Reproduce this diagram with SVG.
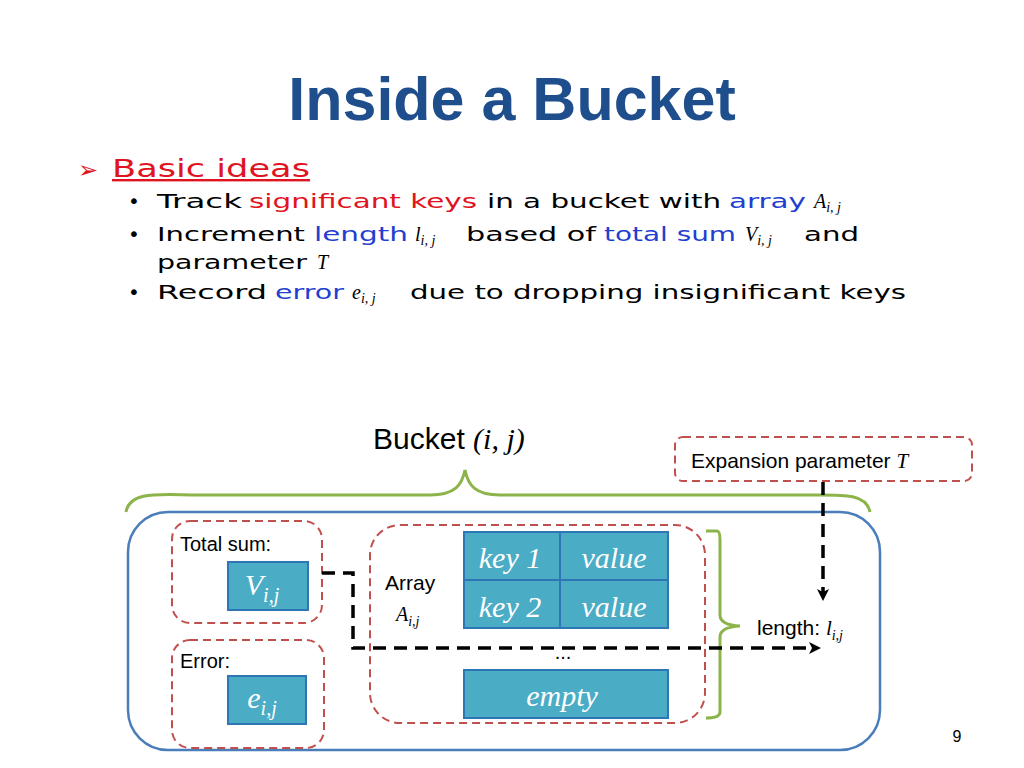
<svg xmlns="http://www.w3.org/2000/svg" width="1024" height="768" viewBox="0 0 1024 768">
<defs>
<style>
.t{font-family:"Liberation Sans",Arial,sans-serif}
.m{font-family:"Liberation Serif","DejaVu Serif",serif;font-style:italic}
.b{font-family:"DejaVu Sans",Verdana,sans-serif;font-size:20px;fill:#000}
.blue{fill:#1f3fd0}.red{fill:#e0141e}
.rd{fill:none;stroke:#c0504d;stroke-width:2;stroke-dasharray:8,5}
.cell{fill:#4bacc6;stroke:#2e75b6;stroke-width:2}
.ct{font-family:"Liberation Serif",serif;font-style:italic;font-size:30px;fill:#fff;text-anchor:middle}
.con{fill:none;stroke:#000;stroke-width:3.5;stroke-dasharray:13,8}
</style>
<marker id="ah2" markerWidth="12" markerHeight="12" refX="6" refY="6" orient="auto" markerUnits="userSpaceOnUse" viewBox="0 0 12 12"><path d="M0,0 L12,6 L0,12 L3,6 z" fill="#000"/></marker>
</defs>
<rect width="1024" height="768" fill="#fff"/>
<text x="512" y="120" text-anchor="middle" class="t" font-size="61" font-weight="bold" fill="#1f4e8c">Inside a Bucket</text>
<text x="78" y="178" class="t" font-size="24" fill="#e0141e">➢</text>
<text x="112" y="177" font-family="DejaVu Sans,sans-serif" font-size="24" fill="#e0141e" text-decoration="underline" textLength="198" lengthAdjust="spacingAndGlyphs">Basic ideas</text>
<g class="b">
<text x="128" y="208">•</text><text x="128" y="241">•</text><text x="128" y="299">•</text>
<text y="208"><tspan x="157" textLength="85" lengthAdjust="spacingAndGlyphs">Track</tspan><tspan x="249" class="red" textLength="228" lengthAdjust="spacingAndGlyphs">significant keys</tspan><tspan x="487" textLength="234" lengthAdjust="spacingAndGlyphs">in a bucket with</tspan><tspan x="729" class="blue" textLength="77" lengthAdjust="spacingAndGlyphs">array</tspan><tspan x="814" class="m">A<tspan font-size="14" dy="4">i, j</tspan></tspan></text>
<text y="241"><tspan x="157" textLength="148" lengthAdjust="spacingAndGlyphs">Increment</tspan><tspan x="314" class="blue" textLength="94" lengthAdjust="spacingAndGlyphs">length</tspan><tspan x="415" class="m">l<tspan font-size="14" dy="4">i, j</tspan></tspan><tspan x="466" y="241" textLength="130" lengthAdjust="spacingAndGlyphs">based of</tspan><tspan x="604" class="blue" textLength="132" lengthAdjust="spacingAndGlyphs">total sum</tspan><tspan x="745" class="m">V<tspan font-size="14" dy="4">i, j</tspan></tspan><tspan x="804" y="241" textLength="55" lengthAdjust="spacingAndGlyphs">and</tspan></text>
<text y="269"><tspan x="157" textLength="150" lengthAdjust="spacingAndGlyphs">parameter</tspan><tspan x="317" class="m">T</tspan></text>
<text y="299"><tspan x="157" textLength="110" lengthAdjust="spacingAndGlyphs">Record</tspan><tspan x="275" class="blue" textLength="69" lengthAdjust="spacingAndGlyphs">error</tspan><tspan x="352" class="m">e<tspan font-size="14" dy="4">i, j</tspan></tspan><tspan x="410" y="299" textLength="496" lengthAdjust="spacingAndGlyphs">due to dropping insignificant keys</tspan></text>
</g>
<g id="bucket-label"><text x="373" y="449" class="t" font-size="30">Bucket <tspan class="m">(i, j)</tspan></text></g>
<g id="brace"><path d="M126,512 C130,490 160,495 200,495 L430,495 C455,495 462,485 465,470 C468,485 475,495 500,495 L800,495 C840,495 866,492 870,512" fill="none" stroke="#8cb44a" stroke-width="3"/></g>
<g id="bucket"><rect x="128" y="512" width="752" height="238" rx="40" fill="none" stroke="#4a7ebb" stroke-width="2.5"/></g>
<g id="expansion"><rect x="675" y="437" width="297" height="44" rx="8" class="rd"/><text x="691" y="468" class="t" font-size="21">Expansion parameter <tspan class="m">T</tspan></text></g>
<g id="totalsum"><rect x="172" y="521" width="150" height="102" rx="18" class="rd"/><text x="180" y="551" class="t" font-size="20">Total sum:</text>
<rect x="228" y="562" width="80" height="48" class="cell"/><text x="262" y="595" class="ct">V<tspan font-size="20" dy="7">i,j</tspan></text></g>
<g id="error"><rect x="172" y="640" width="152" height="108" rx="18" class="rd"/><text x="180" y="668" class="t" font-size="20">Error:</text>
<rect x="228" y="676" width="78" height="48" class="cell"/><text x="262" y="708" class="ct">e<tspan font-size="20" dy="7">i,j</tspan></text></g>
<g id="array"><rect x="370" y="525" width="335" height="198" rx="30" class="rd"/>
<text x="385" y="590" class="t" font-size="21">Array</text><text x="396" y="621" class="m" font-size="20">A<tspan font-size="14" dy="5">i,j</tspan></text>
<rect x="464" y="532" width="96" height="48" class="cell"/><rect x="560" y="532" width="108" height="48" class="cell"/>
<rect x="464" y="580" width="96" height="48" class="cell"/><rect x="560" y="580" width="108" height="48" class="cell"/>
<text x="510" y="568" class="ct">key 1</text><text x="614" y="568" class="ct">value</text>
<text x="510" y="617" class="ct">key 2</text><text x="614" y="617" class="ct">value</text>
<text x="563" y="659" class="t" font-size="20" text-anchor="middle">...</text>
<rect x="464" y="670" width="204" height="48" class="cell"/><text x="562" y="706" class="ct">empty</text></g>
<g id="length"><path d="M706,531 L717,531 Q720,531 720,540 L720,615 Q720,625 740,626 Q720,627 720,637 L720,712 Q720,718 706,718" fill="none" stroke="#8cb44a" stroke-width="3"/>
<text x="757" y="635" class="t" font-size="21">length: <tspan class="m">l<tspan font-size="14" dy="5">i,j</tspan></tspan></text></g>
<g id="connectors">
<path d="M322,573 L353,573 L353,648 L815,648" class="con" marker-end="url(#ah2)"/>
<path d="M823,482 L823,595" class="con" marker-end="url(#ah2)"/>
</g>
<text x="957" y="742" class="t" font-size="16" text-anchor="middle">9</text>
</svg>
